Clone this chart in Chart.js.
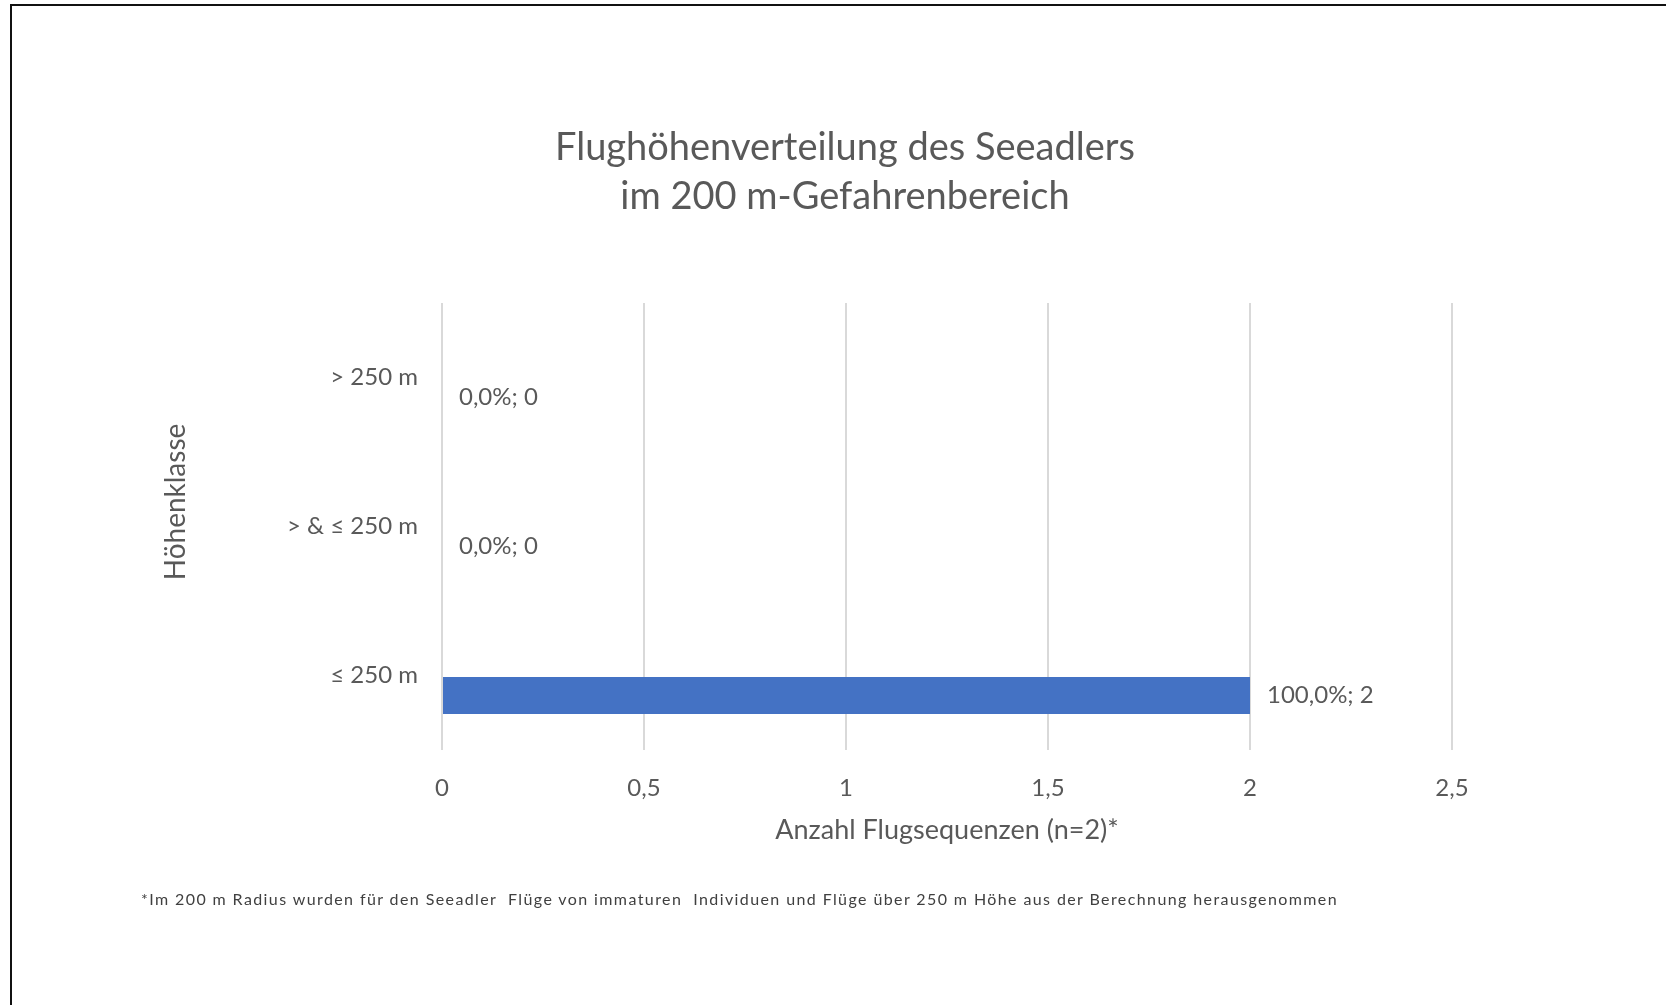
<!DOCTYPE html>
<html>
<head>
<meta charset="utf-8">
<script src="https://cdn.jsdelivr.net/npm/chart.js@4.4.1/dist/chart.umd.min.js"></script>
<style>
  html, body { margin: 0; padding: 0; background: #fff; }
  #wrap { position: relative; width: 1666px; height: 1005px; overflow: hidden; font-family: Lato, "Noto Sans", sans-serif; }
  #frame { position: absolute; left: 10px; top: 4px; width: 1700px; height: 1100px; border-top: 2px solid #111; border-left: 2px solid #111; }
  #chart { position: absolute; left: 0; top: 0; }
  #title { position: absolute; left: 345px; width: 1000px; top: 121px; text-align: center; color: #595959; font-size: 38px; line-height: 49px; }
  #note { position: absolute; left: 141px; top: 890px; color: #404040; font-size: 16px; letter-spacing: 1.4px; line-height: 18px; white-space: pre; }
</style>
</head>
<body>
<div id="wrap">
  <div id="frame"></div>
  <canvas id="chart" width="1666" height="1005"></canvas>
  <div id="title">Flughöhenverteilung des Seeadlers<br>im 200 m-Gefahrenbereich</div>
  <div id="note">*Im 200 m Radius wurden für den Seeadler  Flüge von immaturen  Individuen und Flüge über 250 m Höhe aus der Berechnung herausgenommen</div>
</div>
<script>
// Höhenklassen (top to bottom as drawn)
const classes = ['> 250 m', '> & ≤ 250 m', '≤ 250 m'];
// Anzahl Flugsequenzen
const counts = [0, 0, 2];
// x axis ticks
const xMin = 0;
const xMax = 2.5;
const xStep = 0.5;

const total = counts.reduce((a, b) => a + b, 0);
const grey = '#595959';
const fontFam = 'Lato, "Noto Sans", sans-serif';

const fmt = v => String(v).replace('.', ',');

// data labels + axis titles
const extras = {
  id: 'extras',
  afterDatasetsDraw(chart) {
    const ctx = chart.ctx;
    const meta = chart.getDatasetMeta(1);
    ctx.save();
    ctx.fillStyle = grey;
    ctx.font = '24px ' + fontFam;
    ctx.textAlign = 'left';
    ctx.textBaseline = 'middle';
    meta.data.forEach((bar, i) => {
      const pct = total ? (counts[i] / total * 100).toFixed(1).replace('.', ',') : '0,0';
      ctx.fillText(pct + '%; ' + counts[i], bar.x + 17, bar.y);
    });
    // axis titles
    ctx.textAlign = 'center';
    ctx.font = '27px ' + fontFam;
    ctx.fillText('Anzahl Flugsequenzen (n=2)*', (chart.chartArea.left + chart.chartArea.right) / 2, 830);
    ctx.font = '28px ' + fontFam;
    ctx.translate(176, 502);
    ctx.rotate(-Math.PI / 2);
    ctx.fillText('Höhenklasse', 0, 0);
    ctx.restore();
  }
};

new Chart(document.getElementById('chart'), {
  type: 'bar',
  data: {
    labels: classes,
    datasets: [
      { label: 'leer', data: classes.map(() => null), backgroundColor: 'rgba(0,0,0,0)' },
      { label: 'Anzahl', data: counts, backgroundColor: '#4472C4' }
    ]
  },
  options: {
    indexAxis: 'y',
    responsive: false,
    animation: false,
    devicePixelRatio: 1,
    categoryPercentage: 0.54,
    barPercentage: 0.92,
    layout: { padding: { left: 0, right: 214, top: 303, bottom: 0 } },
    plugins: {
      legend: { display: false },
      title: { display: false },
      tooltip: { enabled: false }
    },
    scales: {
      x: {
        min: xMin,
        max: xMax,
        afterFit(scale) { scale.height = 255; },
        border: { display: false },
        grid: { color: '#d9d9d9', lineWidth: 2, drawTicks: false },
        ticks: {
          stepSize: xStep,
          padding: 24,
          color: grey,
          font: { family: fontFam, size: 24 },
          callback: v => fmt(v)
        }
      },
      y: {
        afterFit(scale) { scale.width = 442; },
        border: { display: false },
        grid: { display: false, drawTicks: false },
        ticks: {
          padding: 24,
          color: grey,
          font: { family: fontFam, size: 24 }
        }
      }
    }
  },
  plugins: [extras]
});
</script>
</body>
</html>
